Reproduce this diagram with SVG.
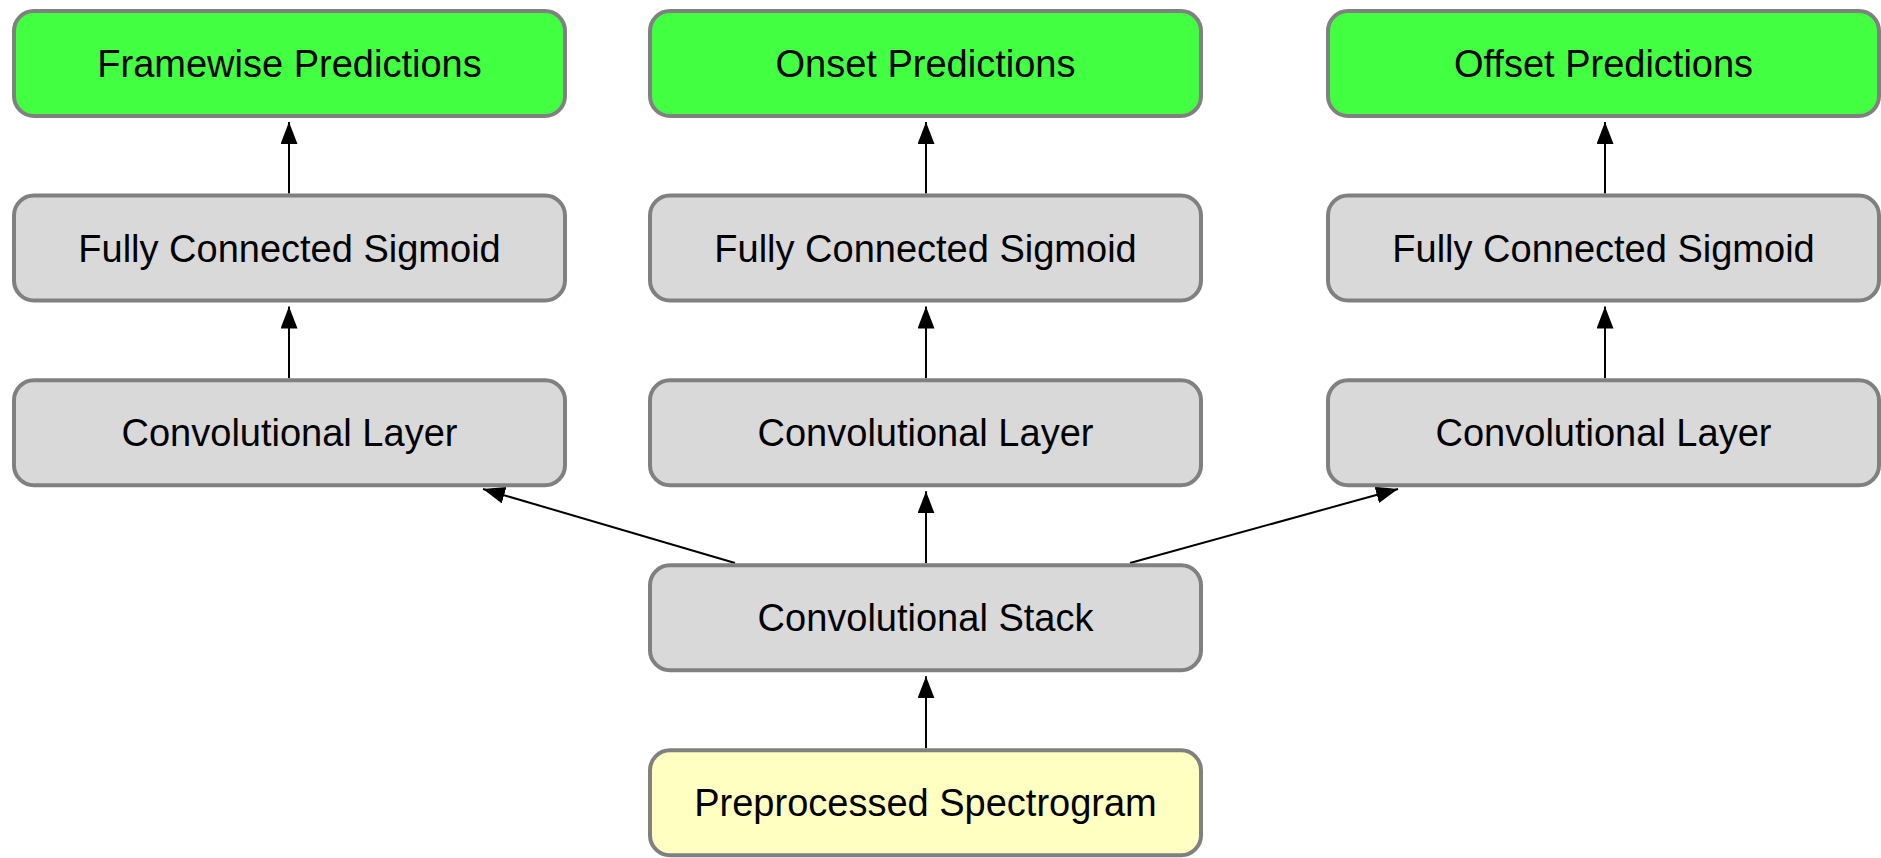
<svg xmlns="http://www.w3.org/2000/svg" width="1881" height="858" viewBox="0 0 1881 858">
  <style>
    .box { stroke: #808080; stroke-width: 4; }
    .out { fill: #42ff42; }
    .mid { fill: #d9d9d9; }
    .inp { fill: #ffffc2; }
    .lbl { font-family: "Liberation Sans", Arial, Helvetica, sans-serif; font-size: 38px; fill: #000; text-anchor: middle; }
    .edge { stroke: #000; stroke-width: 2; fill: none; marker-end: url(#arrow); }
  </style>
  <defs>
    <marker id="arrow" markerUnits="userSpaceOnUse" markerWidth="22" markerHeight="17" refX="22" refY="8.5" orient="auto">
      <path d="M0,0 L22,8.5 L0,17 Z" fill="#000"/>
    </marker>
  </defs>
  <rect width="1881" height="858" fill="#fff"/>

  <!-- connectors -->
  <g id="connectors">
    <line class="edge" x1="289" y1="193.5" x2="289" y2="122"/>
    <line class="edge" x1="289" y1="378.3" x2="289" y2="306.5"/>
    <line class="edge" x1="926" y1="193.5" x2="926" y2="122"/>
    <line class="edge" x1="926" y1="378.3" x2="926" y2="306.5"/>
    <line class="edge" x1="1605" y1="193.5" x2="1605" y2="122"/>
    <line class="edge" x1="1605" y1="378.3" x2="1605" y2="306.5"/>
    <line class="edge" x1="926" y1="563.3" x2="926" y2="491.3"/>
    <line class="edge" x1="735" y1="563" x2="483" y2="489"/>
    <line class="edge" x1="1130" y1="563" x2="1398" y2="489"/>
    <line class="edge" x1="926" y1="748.3" x2="926" y2="676.3"/>
  </g>

  <!-- output heads -->
  <g id="framewise-predictions">
    <rect class="box out" x="14" y="11" width="551" height="105" rx="20"/>
    <text class="lbl" x="289.5" y="77">Framewise Predictions</text>
  </g>
  <g id="onset-predictions">
    <rect class="box out" x="650" y="11" width="551" height="105" rx="20"/>
    <text class="lbl" x="925.5" y="77">Onset Predictions</text>
  </g>
  <g id="offset-predictions">
    <rect class="box out" x="1328" y="11" width="551" height="105" rx="20"/>
    <text class="lbl" x="1603.5" y="77">Offset Predictions</text>
  </g>

  <!-- sigmoid layers -->
  <g id="fc-framewise">
    <rect class="box mid" x="14" y="195.5" width="551" height="105" rx="20"/>
    <text class="lbl" x="289.5" y="261.5">Fully Connected Sigmoid</text>
  </g>
  <g id="fc-onset">
    <rect class="box mid" x="650" y="195.5" width="551" height="105" rx="20"/>
    <text class="lbl" x="925.5" y="261.5">Fully Connected Sigmoid</text>
  </g>
  <g id="fc-offset">
    <rect class="box mid" x="1328" y="195.5" width="551" height="105" rx="20"/>
    <text class="lbl" x="1603.5" y="261.5">Fully Connected Sigmoid</text>
  </g>

  <!-- per-head convolutional layers -->
  <g id="conv-framewise">
    <rect class="box mid" x="14" y="380.3" width="551" height="105" rx="20"/>
    <text class="lbl" x="289.5" y="446.3">Convolutional Layer</text>
  </g>
  <g id="conv-onset">
    <rect class="box mid" x="650" y="380.3" width="551" height="105" rx="20"/>
    <text class="lbl" x="925.5" y="446.3">Convolutional Layer</text>
  </g>
  <g id="conv-offset">
    <rect class="box mid" x="1328" y="380.3" width="551" height="105" rx="20"/>
    <text class="lbl" x="1603.5" y="446.3">Convolutional Layer</text>
  </g>

  <!-- shared trunk -->
  <g id="conv-stack">
    <rect class="box mid" x="650" y="565.3" width="551" height="105" rx="20"/>
    <text class="lbl" x="925.5" y="631.3">Convolutional Stack</text>
  </g>
  <g id="spectrogram">
    <rect class="box inp" x="650" y="750.3" width="551" height="105" rx="20"/>
    <text class="lbl" x="925.5" y="816.3">Preprocessed Spectrogram</text>
  </g>
</svg>
